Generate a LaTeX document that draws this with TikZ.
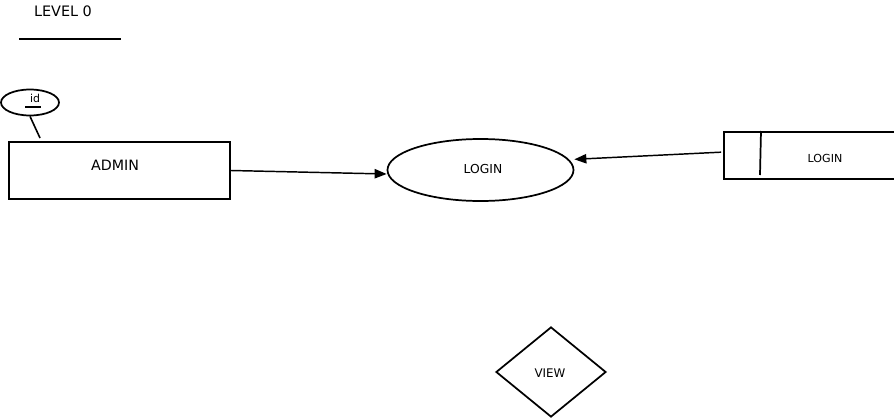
\documentclass[tikz,border=0pt]{standalone}
\usepackage{fontspec}
\setmainfont{DejaVu Sans}
\usetikzlibrary{shapes.geometric,arrows.meta}

\tikzset{
    shp/.style={draw,line width=1.3pt,inner sep=0pt},
    flow/.style={->,>={Triangle[length=9pt,width=7pt]},line width=1.1pt},
}

\begin{document}
\begin{tikzpicture}[x=0.75pt,y=-0.75pt,line width=1.2pt]
        \useasboundingbox (0,0) rectangle (894,418);
        \node[font=\fontsize{10.8}{12}\selectfont] (title) at (63,11) {LEVEL 0};
        \draw[line width=1.5pt] (19,39)--(121,39);
        % entity with its attribute
        \node[shp,rectangle,minimum width=165.75pt,minimum height=42.75pt] (admin) at (119.5,170.5) {};
        \node[font=\fontsize{10.7}{12}\selectfont] at (115,165) {ADMIN};
        \node[shp,ellipse,minimum width=43.5pt,minimum height=19.5pt] (id) at (30,102.5) {};
        \node[font=\fontsize{8.2}{10}\selectfont] (idtext) at (35,98.5) {id};
        \draw[line width=1.2pt] (25,107)--(41,107);
        \coordinate (idfoot) at (40,138);
        \draw (id.south)--(idfoot);
        % process
        \node[shp,ellipse,minimum width=139.5pt,minimum height=46.5pt] (login) at (480.5,170) {};
        \node[font=\fontsize{9.25}{11}\selectfont] at (483,169) {LOGIN};
        % data store, open on the right
        \node[inner sep=0pt,minimum width=126.75pt,minimum height=33.75pt] (store) at (809.5,155.5) {};
        \draw[line width=1.3pt] (store.north east)--(store.north west)--(store.south west)--(store.south east);
        \draw[line width=1.3pt] (761,131)--(760,175);
        \node[font=\fontsize{8.3}{10}\selectfont] at (825,158) {LOGIN};
        % decision
        \node[shp,diamond,minimum width=82.5pt,minimum height=67.5pt] (view) at (551,372) {};
        \node[font=\fontsize{8.9}{10}\selectfont] at (550,373) {VIEW};
        % flows
        \draw[flow] (admin.east)--([yshift=-3pt]login.west);
        \draw[flow] ([xshift=-2.25pt,yshift=2.5pt]store.west)--([yshift=8pt]login.east);
    \end{tikzpicture}
\end{document}
